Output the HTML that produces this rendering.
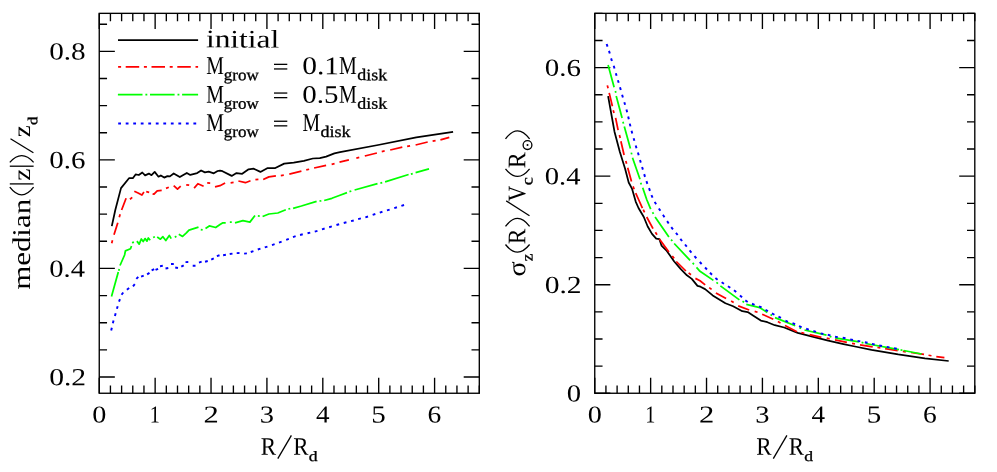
<!DOCTYPE html>
<html><head><meta charset="utf-8"><title>chart</title>
<style>html,body{margin:0;padding:0;background:#fff;}body{width:997px;height:472px;overflow:hidden;font-family:"Liberation Serif",serif;}svg text{text-rendering:geometricPrecision;font-family:"Liberation Serif",serif;}</style></head>
<body>
<svg width="997" height="472" viewBox="0 0 997 472" font-family="'Liberation Serif', serif" style="display:block;will-change:transform">
<rect width="997" height="472" fill="#fff"/>
<rect x="99.25" y="13.35" width="380.05" height="379.90" fill="none" stroke="#000" stroke-width="1.35"/>
<path d="M99.25,393.25v-15.6M99.25,13.35v15.6M110.43,393.25v-7.8M110.43,13.35v7.8M121.61,393.25v-7.8M121.61,13.35v7.8M132.78,393.25v-7.8M132.78,13.35v7.8M143.96,393.25v-7.8M143.96,13.35v7.8M155.14,393.25v-15.6M155.14,13.35v15.6M166.32,393.25v-7.8M166.32,13.35v7.8M177.50,393.25v-7.8M177.50,13.35v7.8M188.67,393.25v-7.8M188.67,13.35v7.8M199.85,393.25v-7.8M199.85,13.35v7.8M211.03,393.25v-15.6M211.03,13.35v15.6M222.21,393.25v-7.8M222.21,13.35v7.8M233.39,393.25v-7.8M233.39,13.35v7.8M244.56,393.25v-7.8M244.56,13.35v7.8M255.74,393.25v-7.8M255.74,13.35v7.8M266.92,393.25v-15.6M266.92,13.35v15.6M278.10,393.25v-7.8M278.10,13.35v7.8M289.28,393.25v-7.8M289.28,13.35v7.8M300.45,393.25v-7.8M300.45,13.35v7.8M311.63,393.25v-7.8M311.63,13.35v7.8M322.81,393.25v-15.6M322.81,13.35v15.6M333.99,393.25v-7.8M333.99,13.35v7.8M345.16,393.25v-7.8M345.16,13.35v7.8M356.34,393.25v-7.8M356.34,13.35v7.8M367.52,393.25v-7.8M367.52,13.35v7.8M378.70,393.25v-15.6M378.70,13.35v15.6M389.88,393.25v-7.8M389.88,13.35v7.8M401.05,393.25v-7.8M401.05,13.35v7.8M412.23,393.25v-7.8M412.23,13.35v7.8M423.41,393.25v-7.8M423.41,13.35v7.8M434.59,393.25v-15.6M434.59,13.35v15.6M445.77,393.25v-7.8M445.77,13.35v7.8M456.94,393.25v-7.8M456.94,13.35v7.8M468.12,393.25v-7.8M468.12,13.35v7.8M479.30,393.25v-7.8M479.30,13.35v7.8M99.25,376.97h15.6M479.30,376.97h-15.6M99.25,349.83h7.8M479.30,349.83h-7.8M99.25,322.70h7.8M479.30,322.70h-7.8M99.25,295.56h7.8M479.30,295.56h-7.8M99.25,268.43h15.6M479.30,268.43h-15.6M99.25,241.29h7.8M479.30,241.29h-7.8M99.25,214.15h7.8M479.30,214.15h-7.8M99.25,187.02h7.8M479.30,187.02h-7.8M99.25,159.88h15.6M479.30,159.88h-15.6M99.25,132.75h7.8M479.30,132.75h-7.8M99.25,105.61h7.8M479.30,105.61h-7.8M99.25,78.48h7.8M479.30,78.48h-7.8M99.25,51.34h15.6M479.30,51.34h-15.6M99.25,24.20h7.8M479.30,24.20h-7.8" fill="none" stroke="#000" stroke-width="1.35"/>
<rect x="594.75" y="13.35" width="380.05" height="379.90" fill="none" stroke="#000" stroke-width="1.35"/>
<path d="M594.75,393.25v-15.6M594.75,13.35v15.6M605.93,393.25v-7.8M605.93,13.35v7.8M617.11,393.25v-7.8M617.11,13.35v7.8M628.28,393.25v-7.8M628.28,13.35v7.8M639.46,393.25v-7.8M639.46,13.35v7.8M650.64,393.25v-15.6M650.64,13.35v15.6M661.82,393.25v-7.8M661.82,13.35v7.8M673.00,393.25v-7.8M673.00,13.35v7.8M684.17,393.25v-7.8M684.17,13.35v7.8M695.35,393.25v-7.8M695.35,13.35v7.8M706.53,393.25v-15.6M706.53,13.35v15.6M717.71,393.25v-7.8M717.71,13.35v7.8M728.89,393.25v-7.8M728.89,13.35v7.8M740.06,393.25v-7.8M740.06,13.35v7.8M751.24,393.25v-7.8M751.24,13.35v7.8M762.42,393.25v-15.6M762.42,13.35v15.6M773.60,393.25v-7.8M773.60,13.35v7.8M784.78,393.25v-7.8M784.78,13.35v7.8M795.95,393.25v-7.8M795.95,13.35v7.8M807.13,393.25v-7.8M807.13,13.35v7.8M818.31,393.25v-15.6M818.31,13.35v15.6M829.49,393.25v-7.8M829.49,13.35v7.8M840.66,393.25v-7.8M840.66,13.35v7.8M851.84,393.25v-7.8M851.84,13.35v7.8M863.02,393.25v-7.8M863.02,13.35v7.8M874.20,393.25v-15.6M874.20,13.35v15.6M885.38,393.25v-7.8M885.38,13.35v7.8M896.55,393.25v-7.8M896.55,13.35v7.8M907.73,393.25v-7.8M907.73,13.35v7.8M918.91,393.25v-7.8M918.91,13.35v7.8M930.09,393.25v-15.6M930.09,13.35v15.6M941.27,393.25v-7.8M941.27,13.35v7.8M952.44,393.25v-7.8M952.44,13.35v7.8M963.62,393.25v-7.8M963.62,13.35v7.8M974.80,393.25v-7.8M974.80,13.35v7.8M594.75,393.25h15.6M974.80,393.25h-15.6M594.75,366.11h7.8M974.80,366.11h-7.8M594.75,338.98h7.8M974.80,338.98h-7.8M594.75,311.84h7.8M974.80,311.84h-7.8M594.75,284.71h15.6M974.80,284.71h-15.6M594.75,257.57h7.8M974.80,257.57h-7.8M594.75,230.44h7.8M974.80,230.44h-7.8M594.75,203.30h7.8M974.80,203.30h-7.8M594.75,176.16h15.6M974.80,176.16h-15.6M594.75,149.03h7.8M974.80,149.03h-7.8M594.75,121.89h7.8M974.80,121.89h-7.8M594.75,94.76h7.8M974.80,94.76h-7.8M594.75,67.62h15.6M974.80,67.62h-15.6M594.75,40.49h7.8M974.80,40.49h-7.8M594.75,13.35h7.8M974.80,13.35h-7.8" fill="none" stroke="#000" stroke-width="1.35"/>
<text transform="translate(49.22,385.17) rotate(0.2) scale(1.1972,1)" font-size="24.66" fill="#000">0.2</text>
<text transform="translate(49.26,276.63) rotate(0.2) scale(1.1571,1)" font-size="24.66" fill="#000">0.4</text>
<text transform="translate(49.24,168.08) rotate(0.2) scale(1.1718,1)" font-size="24.66" fill="#000">0.6</text>
<text transform="translate(49.23,59.54) rotate(0.2) scale(1.1818,1)" font-size="24.66" fill="#000">0.8</text>
<text transform="translate(544.72,292.91) rotate(0.2) scale(1.1972,1)" font-size="24.66" fill="#000">0.2</text>
<text transform="translate(544.76,184.36) rotate(0.2) scale(1.1571,1)" font-size="24.66" fill="#000">0.4</text>
<text transform="translate(544.74,75.82) rotate(0.2) scale(1.1718,1)" font-size="24.66" fill="#000">0.6</text>
<text transform="translate(566.86,401.45) rotate(0.2) scale(1.1585,1)" font-size="24.66" fill="#000">0</text>
<text transform="translate(92.23,422.50) rotate(0.2) scale(1.1605,1)" font-size="24.21" fill="#000">0</text>
<text transform="translate(149.82,422.50) rotate(0.2) scale(0.8314,1)" font-size="24.39" fill="#000">1</text>
<text transform="translate(203.56,422.50) rotate(0.2) scale(1.2503,1)" font-size="24.39" fill="#000">2</text>
<text transform="translate(259.74,422.50) rotate(0.2) scale(1.1656,1)" font-size="24.39" fill="#000">3</text>
<text transform="translate(315.97,422.50) rotate(0.2) scale(1.1108,1)" font-size="24.39" fill="#000">4</text>
<text transform="translate(371.16,422.50) rotate(0.2) scale(1.1798,1)" font-size="24.58" fill="#000">5</text>
<text transform="translate(427.59,422.50) rotate(0.2) scale(1.1249,1)" font-size="24.39" fill="#000">6</text>
<text transform="translate(587.73,422.50) rotate(0.2) scale(1.1605,1)" font-size="24.21" fill="#000">0</text>
<text transform="translate(645.32,422.50) rotate(0.2) scale(0.8314,1)" font-size="24.39" fill="#000">1</text>
<text transform="translate(699.06,422.50) rotate(0.2) scale(1.2503,1)" font-size="24.39" fill="#000">2</text>
<text transform="translate(755.24,422.50) rotate(0.2) scale(1.1656,1)" font-size="24.39" fill="#000">3</text>
<text transform="translate(811.47,422.50) rotate(0.2) scale(1.1108,1)" font-size="24.39" fill="#000">4</text>
<text transform="translate(866.66,422.50) rotate(0.2) scale(1.1798,1)" font-size="24.58" fill="#000">5</text>
<text transform="translate(923.09,422.50) rotate(0.2) scale(1.1249,1)" font-size="24.39" fill="#000">6</text>
<text transform="translate(260.81,454.70) rotate(0.2) scale(0.9127,1)" font-size="25.19" fill="#000">R</text>
<line x1="277.80" y1="458.60" x2="291.40" y2="435.40" stroke="#000" stroke-width="1.3"/>
<text transform="translate(293.31,454.70) rotate(0.2) scale(0.9065,1)" font-size="25.19" fill="#000">R</text>
<text transform="translate(308.78,461.00) rotate(0.2) scale(1.2220,1)" font-size="14.39" stroke="#000" stroke-width="0.32" fill="#000">d</text>
<text transform="translate(756.31,454.70) rotate(0.2) scale(0.9127,1)" font-size="25.19" fill="#000">R</text>
<line x1="773.30" y1="458.60" x2="786.90" y2="435.40" stroke="#000" stroke-width="1.3"/>
<text transform="translate(788.81,454.70) rotate(0.2) scale(0.9065,1)" font-size="25.19" fill="#000">R</text>
<text transform="translate(804.28,461.00) rotate(0.2) scale(1.2220,1)" font-size="14.39" stroke="#000" stroke-width="0.32" fill="#000">d</text>
<text transform="translate(29.90,289.82) rotate(-89.8) scale(1.2068,1)" font-size="25.60">median</text>
<path d="M9.8,187.1Q21.7,202.5 33.6,187.1" fill="none" stroke="#000" stroke-width="1.3"/>
<line x1="9.80" y1="183.90" x2="33.60" y2="183.90" stroke="#000" stroke-width="1.3"/>
<text transform="translate(29.90,180.79) rotate(-89.8) scale(1.0974,1)" font-size="25.00">z</text>
<line x1="9.80" y1="166.20" x2="33.60" y2="166.20" stroke="#000" stroke-width="1.3"/>
<path d="M9.8,162.4Q21.7,149.0 33.6,162.4" fill="none" stroke="#000" stroke-width="1.3"/>
<line x1="33.40" y1="152.70" x2="10.50" y2="138.80" stroke="#000" stroke-width="1.3"/>
<text transform="translate(29.90,137.37) rotate(-89.8) scale(1.0769,1)" font-size="25.00">z</text>
<text transform="translate(37.20,124.88) rotate(-89.8) scale(1.2092,1)" font-size="13.81" stroke="#000" stroke-width="0.32">d</text>
<text transform="translate(525.20,276.62) rotate(-89.8) scale(1.0785,1)" font-size="26.00">σ</text>
<text transform="translate(532.40,261.33) rotate(-89.8) scale(1.0737,1)" font-size="16.00" stroke="#000" stroke-width="0.32">z</text>
<path d="M505.5,244.5Q517.5,259.7 529.6,244.5" fill="none" stroke="#000" stroke-width="1.3"/>
<text transform="translate(525.20,244.30) rotate(-89.8) scale(0.9196,1)" font-size="25.34">R</text>
<path d="M505.5,226.4Q517.5,210.4 529.6,226.4" fill="none" stroke="#000" stroke-width="1.3"/>
<line x1="529.50" y1="215.80" x2="506.20" y2="200.90" stroke="#000" stroke-width="1.3"/>
<text transform="translate(525.20,201.62) rotate(-89.8) scale(0.8568,1)" font-size="25.34">V</text>
<text transform="translate(532.60,185.23) rotate(-89.8) scale(1.1333,1)" font-size="16.00" stroke="#000" stroke-width="0.32">c</text>
<path d="M505.5,168.8Q517.5,184.0 529.6,168.8" fill="none" stroke="#000" stroke-width="1.3"/>
<text transform="translate(525.20,168.32) rotate(-89.8) scale(0.9507,1)" font-size="25.34">R</text>
<circle cx="527.5" cy="145.1" r="4.4" fill="none" stroke="#000" stroke-width="1.3"/>
<circle cx="527.5" cy="145.1" r="1.0" fill="#000"/>
<path d="M505.5,138.9Q517.5,122.7 529.6,138.9" fill="none" stroke="#000" stroke-width="1.3"/>
<line x1="118.00" y1="40.10" x2="198.10" y2="40.10" stroke="#000" stroke-width="1.8"/>
<line x1="117.90" y1="66.90" x2="198.10" y2="66.90" stroke="#f00" stroke-width="1.8" stroke-dasharray="13.5 4.7 3.0 4.6" stroke-dashoffset="18.0"/>
<line x1="117.90" y1="94.60" x2="198.10" y2="94.60" stroke="#0f0" stroke-width="1.8" stroke-dasharray="24.6 2.9 1.9 2.7"/>
<line x1="118.20" y1="123.40" x2="199.00" y2="123.40" stroke="#00f" stroke-width="2.0" stroke-dasharray="2.8 4.72"/>
<text transform="translate(205.97,47.30) rotate(0.2) scale(1.2400,1)" font-size="25.30" fill="#000">initial</text>
<text transform="translate(206.20,74.10) rotate(0.2) scale(0.7705,1)" font-size="25.80" fill="#000">M</text>
<text transform="translate(223.84,80.10) rotate(0.2) scale(1.0408,1)" font-size="16.30" stroke="#000" stroke-width="0.32" fill="#000">grow</text>
<line x1="274.00" y1="64.35" x2="287.30" y2="64.35" stroke="#000" stroke-width="1.3"/>
<line x1="274.00" y1="68.95" x2="287.30" y2="68.95" stroke="#000" stroke-width="1.3"/>
<text transform="translate(302.22,74.10) rotate(0.2) scale(1.1565,1)" font-size="25.41" fill="#000">0.1</text>
<text transform="translate(339.00,74.10) rotate(0.2) scale(0.7751,1)" font-size="25.80" fill="#000">M</text>
<text transform="translate(357.27,80.10) rotate(0.2) scale(1.0990,1)" font-size="16.30" stroke="#000" stroke-width="0.32" fill="#000">disk</text>
<text transform="translate(206.20,102.70) rotate(0.2) scale(0.7797,1)" font-size="25.50" fill="#000">M</text>
<text transform="translate(223.84,108.70) rotate(0.2) scale(1.0408,1)" font-size="16.30" stroke="#000" stroke-width="0.32" fill="#000">grow</text>
<line x1="274.00" y1="93.05" x2="287.30" y2="93.05" stroke="#000" stroke-width="1.3"/>
<line x1="274.00" y1="97.65" x2="287.30" y2="97.65" stroke="#000" stroke-width="1.3"/>
<text transform="translate(302.24,102.70) rotate(0.2) scale(1.1504,1)" font-size="25.11" fill="#000">0.5</text>
<text transform="translate(339.00,102.70) rotate(0.2) scale(0.7844,1)" font-size="25.50" fill="#000">M</text>
<text transform="translate(357.27,108.70) rotate(0.2) scale(1.0990,1)" font-size="16.30" stroke="#000" stroke-width="0.32" fill="#000">disk</text>
<text transform="translate(206.20,130.90) rotate(0.2) scale(0.7797,1)" font-size="25.50" fill="#000">M</text>
<text transform="translate(223.84,136.90) rotate(0.2) scale(1.0408,1)" font-size="16.30" stroke="#000" stroke-width="0.32" fill="#000">grow</text>
<line x1="274.00" y1="121.25" x2="287.30" y2="121.25" stroke="#000" stroke-width="1.3"/>
<line x1="274.00" y1="125.85" x2="287.30" y2="125.85" stroke="#000" stroke-width="1.3"/>
<text transform="translate(302.61,130.90) rotate(0.2) scale(0.7750,1)" font-size="25.50" fill="#000">M</text>
<text transform="translate(320.47,136.90) rotate(0.2) scale(1.1103,1)" font-size="16.30" stroke="#000" stroke-width="0.32" fill="#000">disk</text>
<polyline points="111.8,226.1 115.3,210.0 121.0,188.1 129.0,178.2 132.8,178.2 135.6,174.4 138.8,175.0 142.3,172.5 145.1,175.4 148.9,173.6 151.5,175.2 154.7,171.9 158.5,176.7 160.8,175.4 164.2,177.6 167.4,176.1 169.9,176.4 173.7,173.5 179.8,177.1 186.8,172.9 190.3,174.9 197.2,173.1 201.1,170.5 204.9,172.4 208.7,171.7 213.8,173.3 217.6,171.0 220.0,170.6 222.5,171.2 231.7,175.9 236.5,173.1 242.2,173.8 248.6,169.3 253.7,168.7 260.4,171.9 267.7,168.0 275.3,168.0 284.2,163.6 293.7,162.6 303.9,160.8 312.8,158.5 319.8,158.1 326.1,156.6 334.4,153.4 340.0,152.2 378.1,145.0 416.3,137.3 453.1,131.9" fill="none" stroke="#000" stroke-width="1.75" stroke-linejoin="round"/>
<path d="M111.71,243.25L112.49,240.35M114.0,234.8L117.8,222.7M119.27,217.14L120.13,214.26M121.6,210.0L126.1,198.3M129.96,199.27L132.24,197.33M134.3,191.3L138.1,193.0L141.9,195.1L143.9,192.0M146.23,191.70L149.17,192.30M152.6,193.8L154.0,194.2L157.2,190.9L161.7,190.4M166.01,188.36L168.79,187.24M173.7,185.6L177.5,189.2L180.7,186.2M186.21,184.79L189.19,185.21M194.1,188.1L197.9,183.7L203.6,186.2M207.20,182.91L210.20,183.09M215.0,186.9L220.0,185.7L225.1,183.0M230.62,182.92L233.58,182.48M238.4,181.0L245.4,182.7L250.5,180.8M255.41,179.65L258.39,179.35M263.2,179.5L268.9,176.9L275.9,175.9M280.81,175.60L283.79,175.20M289.3,174.1L301.4,171.2M306.25,169.97L309.15,169.23M314.1,168.0L326.1,165.3M331.64,164.35L334.56,163.65M339.5,162.1L348.9,159.8M356.34,158.05L359.26,157.35M364.8,156.0L376.9,153.0M381.74,151.63L384.66,150.97M390.2,150.0L402.3,147.1M407.12,146.33L410.08,145.87M415.6,145.0L427.7,142.0M432.62,141.14L435.58,140.66M440.4,139.9L449.3,137.3" fill="none" stroke="#f00" stroke-width="1.75" stroke-linejoin="round"/>
<path d="M111.5,296.5L118.3,271.9M118.76,270.82L119.24,268.98M120.0,265.5L124.6,255.0L125.4,250.9L130.5,248.8L131.5,246.0M132.30,243.04L133.70,241.76M136.9,241.1L139.2,244.1L141.3,239.0L143.2,241.5L145.1,238.6L147.0,241.1L148.3,238.0L150.2,240.3M153.14,237.49L154.86,236.71M157.2,237.1L160.4,239.2L162.9,236.7L165.8,240.5L169.3,235.4L171.2,238.6M174.78,237.18L176.42,236.22M178.8,234.2L182.6,236.4L186.4,232.9L189.0,230.1L198.5,227.2M200.76,229.54L202.64,229.86M205.5,228.4L209.3,225.9L215.7,227.5L220.0,224.5L222.5,222.9L225.7,222.9M229.85,222.20L231.75,222.20M235.0,222.9L242.9,220.6L249.9,222.1L255.0,215.5M257.86,215.78L259.74,216.02M262.6,216.5L268.9,214.0L277.8,213.0L285.8,209.8M288.37,208.99L290.23,208.61M293.1,208.3L301.4,206.0L316.6,201.3M319.46,201.00L321.34,200.80M324.2,200.5L331.9,198.3L340.0,195.2L347.0,192.6M349.50,191.61L351.30,190.99M354.6,190.0L377.5,183.7M380.38,183.03L382.22,182.57M385.1,181.8L408.6,174.5M410.88,174.05L412.72,173.55M415.6,172.6L429.0,168.8" fill="none" stroke="#0f0" stroke-width="1.75" stroke-linejoin="round"/>
<path d="M111.18,330.56L111.82,327.84M112.85,323.25L113.55,320.55M114.92,316.05L115.68,313.35M116.91,308.84L117.69,306.16M119.02,301.71L119.98,299.09M121.57,294.73L123.23,292.47M126.87,289.73L129.13,288.07M133.00,286.27L134.80,284.13M136.34,278.92L138.26,276.88M141.10,276.71L143.70,275.69M147.11,274.34L149.49,272.86M151.64,270.32L154.16,269.08M155.52,269.96L158.08,268.84M160.01,266.17L162.79,265.83M165.52,268.45L168.28,267.95M171.00,264.07L173.80,263.93M175.23,267.43L177.97,267.97M181.27,266.67L183.73,265.33M185.50,262.14L188.30,262.06M192.70,265.70L195.50,265.70M198.98,262.56L201.62,261.64M205.05,261.76L207.75,261.04M211.24,259.51L213.76,258.29M216.87,256.13L219.53,255.27M223.11,255.20L225.89,254.80M229.71,253.99L232.49,253.61M236.70,253.13L239.50,253.07M244.11,253.65L246.89,253.35M250.77,252.03L253.43,251.17M257.77,249.54L260.43,248.66M264.77,247.42L267.43,246.58M271.98,245.06L274.62,244.14M278.99,242.58L281.61,241.62M286.20,239.91L288.80,238.89M292.98,237.06L295.62,236.14M300.04,234.94L302.76,234.26M307.54,233.22L310.26,232.58M314.75,231.57L317.45,230.83M321.96,229.31L324.64,228.49M329.16,227.20L331.84,226.40M336.45,224.99L339.15,224.21M343.75,222.95L346.45,222.25M351.05,221.16L353.75,220.44M358.15,219.17L360.85,218.43M365.36,217.31L368.04,216.49M372.67,214.83L375.33,213.97M379.76,212.61L382.44,211.79M386.96,210.41L389.64,209.59M394.27,208.13L396.93,207.27M401.37,205.83L404.03,204.97" fill="none" stroke="#00f" stroke-width="1.95"/>
<polyline points="608.1,96.1 612.4,120.0 614.5,131.7 619.8,151.8 625.1,168.7 628.7,182.5 632.1,188.9 635.7,201.6 638.5,208.0 643.8,217.0 647.7,226.5 652.0,233.9 656.2,238.6 659.4,239.2 661.5,245.6 666.8,250.9 674.2,261.5 680.6,268.9 686.9,275.3 691.8,278.9 697.5,285.9 700.5,286.7 705.1,289.1 712.7,295.4 725.4,303.3 733.1,306.3 742.3,311.2 747.7,312.1 753.4,315.8 760.8,320.6 767.4,322.2 774.8,325.2 784.2,327.5 797.7,332.9 811.3,336.4 828.2,340.7 843.5,344.1 855.0,346.5 871.5,349.8 898.2,354.4 924.9,358.3 948.7,361.0" fill="none" stroke="#000" stroke-width="1.75" stroke-linejoin="round"/>
<path d="M607.34,85.34L608.06,88.26M609.2,92.9L612.4,106.3M613.20,110.15L614.00,113.05M615.6,117.9L618.1,130.2M619.43,135.05L620.17,137.95M620.9,141.2L624.1,155.0M625.79,160.96L626.61,163.84M627.7,167.7L631.5,181.4M633.09,186.39L634.11,189.21M635.7,193.1L638.8,200.0L642.4,208.1M643.25,209.65L644.55,212.35M646.7,217.0L653.0,228.6M655.41,232.22L656.99,234.78M659.4,239.0L668.9,251.9M672.28,256.01L674.12,258.39M676.3,261.5L685.9,271.0M688.62,272.88L690.98,274.72M695.4,278.4L700.0,280.8L705.2,284.9M709.20,287.60L711.60,289.40M715.9,292.9L726.1,298.6M731.12,301.03L733.68,302.57M738.2,305.9L749.2,310.0M754.67,311.34L757.53,312.26M762.2,314.2L773.3,319.2M777.87,321.60L780.53,323.00M785.0,325.4L796.9,331.7M801.34,332.57L804.26,333.23M809.6,334.6L821.4,337.3M826.72,338.23L829.68,338.77M835.0,339.8L846.9,342.4M852.02,343.33L854.98,343.87M860.0,344.8L872.7,346.8M877.42,347.47L880.38,347.93M885.1,348.7L897.7,350.6M902.82,351.39L905.78,351.81M911.0,352.5L924.0,354.4M928.52,355.24L931.48,355.76M936.3,356.6L944.4,357.6" fill="none" stroke="#f00" stroke-width="1.75" stroke-linejoin="round"/>
<path d="M608.1,65.0L614.1,87.2M615.38,90.98L615.82,92.82M616.2,96.1L622.1,117.9M622.97,121.78L623.43,123.62M624.3,126.6L630.4,148.6M631.29,152.57L631.71,154.43M632.5,157.7L640.0,179.3M640.71,182.69L641.29,184.51M642.7,187.8L646.7,199.5L650.7,209.2M652.53,212.27L653.47,213.93M655.1,217.0L668.9,237.1M671.09,239.57L672.31,241.03M674.2,243.5L690.1,260.4M692.66,262.90L693.94,264.30M696.5,267.4L700.0,271.3L713.4,280.4M716.45,282.41L717.95,283.59M720.4,285.9L739.4,299.9M742.50,301.28L744.10,302.32M746.3,304.4L759.8,307.7L767.3,312.4M770.51,314.47L772.09,315.53M775.0,317.6L795.2,325.8M799.43,327.61L801.17,328.39M804.5,330.0L826.5,335.1M829.59,336.31L831.41,336.89M835.0,337.8L858.9,341.8M861.58,342.46L863.42,342.94M865.5,343.5L899.0,349.7M900.56,349.94L902.44,350.26M903.6,350.5L921.6,354.0" fill="none" stroke="#0f0" stroke-width="1.75" stroke-linejoin="round"/>
<path d="M606.66,43.97L607.54,46.63M608.99,50.86L609.81,53.54M611.08,58.36L611.92,61.04M613.68,65.77L614.52,68.43M615.81,73.16L616.59,75.84M617.90,80.16L618.70,82.84M620.01,87.35L620.79,90.05M622.11,94.76L622.89,97.44M624.31,102.16L625.09,104.84M626.44,109.55L627.16,112.25M628.18,116.54L628.82,119.26M629.77,123.64L630.43,126.36M631.54,130.75L632.26,133.45M633.62,138.15L634.38,140.85M635.70,145.56L636.50,148.24M637.90,152.56L638.70,155.24M640.01,159.96L640.79,162.64M642.10,166.96L642.90,169.64M644.19,174.16L645.01,176.84M646.44,181.18L647.36,183.82M649.01,188.19L649.99,190.81M651.44,195.02L652.56,197.58M654.71,201.88L656.09,204.32M658.84,208.42L660.36,210.78M662.93,214.83L664.47,217.17M667.11,221.15L668.69,223.45M671.25,227.09L672.95,229.31M675.94,232.79L677.66,235.01M680.34,238.79L682.06,241.01M685.02,244.51L686.78,246.69M689.61,250.42L691.39,252.58M694.47,256.15L696.33,258.25M699.74,261.98L701.66,264.02M705.03,267.49L706.97,269.51M710.00,272.82L712.00,274.78M715.40,277.94L717.60,279.66M721.63,282.24L723.97,283.76M727.93,286.23L730.27,287.77M734.00,290.23L736.20,291.97M739.95,295.47L742.05,297.33M745.32,300.44L747.68,301.96M752.01,303.77L754.59,304.83M759.03,306.31L761.57,307.49M765.48,309.82L767.92,311.18M771.96,313.45L774.44,314.75M778.46,316.65L780.94,317.95M785.43,320.62L787.97,321.78M792.50,323.18L795.10,324.22M799.00,326.08L801.60,327.12M806.17,328.76L808.83,329.64M813.36,330.99L816.04,331.81M820.64,333.35L823.36,334.05M827.73,334.80L830.47,335.40M835.03,336.63L837.77,337.17M842.72,337.75L845.48,338.25M850.23,339.41L852.97,339.99M857.53,340.84L860.27,341.36M864.83,342.21L867.57,342.79M871.93,343.90L874.67,344.50M879.23,345.43L881.97,345.97M886.72,346.84L889.48,347.36M894.03,348.24L896.77,348.76" fill="none" stroke="#00f" stroke-width="1.95"/>
</svg>
</body></html>
